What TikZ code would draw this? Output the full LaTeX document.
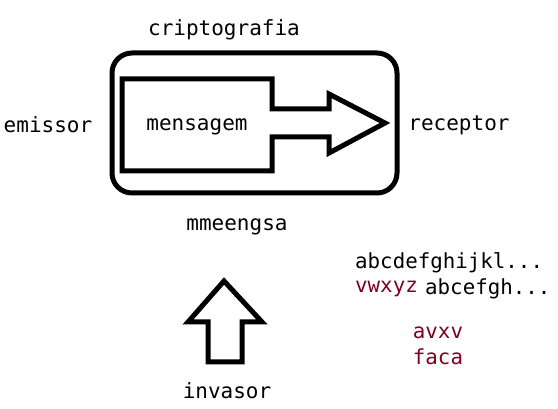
\documentclass[tikz,border=0pt]{standalone}
\usepackage{fontspec}
\setmonofont{DejaVu Sans Mono}
\definecolor{vinho}{RGB}{128,0,32}
\tikzset{
  rotulo/.style={font=\ttfamily\fontsize{21}{24}\selectfont, inner sep=0pt},
  alfabeto/.style={font=\ttfamily\fontsize{20.8}{24}\selectfont, inner sep=0pt},
  contorno/.style={line width=5pt, line join=miter},
}
\begin{document}
\begin{tikzpicture}[x=1pt, y=-1pt]
    \useasboundingbox (0,0) rectangle (558,409);

    % Caixa da criptografia
    \draw[contorno, rounded corners=20pt] (112,53) rectangle (397,193);

    % Seta com a mensagem
    \draw[contorno] (122,79) -- (272,79) -- (272,109) -- (329,109) -- (329,94)
        -- (385,123) -- (329,153) -- (329,137) -- (272,137) -- (272,171)
        -- (122,171) -- cycle;

    % Seta do invasor
    \draw[contorno] (224,281) -- (262,322) -- (242,322) -- (242,362)
        -- (208,362) -- (208,322) -- (188,322) -- cycle;

    % Textos
    \node[rotulo] (cripto) at (224,30) {criptografia};
    \node[rotulo] (emissor) at (48,125) {emissor};
    \node[rotulo] (receptor) at (459,125) {receptor};
    \node[rotulo] (mensagem) at (197,127) {mensagem};
    \node[rotulo] (embaralhada) at (237,227) {mmeengsa};
    \node[rotulo] (invasor) at (227,391) {invasor};

    % Alfabetos deslocados
    \node[alfabeto, anchor=west] (alfa) at (355,263) {abcdefghijkl...};
    \node[alfabeto, anchor=west, text=vinho] (desloc) at (355,289) {vwxyz};
    \node[alfabeto, anchor=west] (resto) at (425,289) {abcefgh...};
    \node[alfabeto, text=vinho] (cifra1) at (438,333) {avxv};
    \node[alfabeto, text=vinho] (cifra2) at (438,357) {faca};
\end{tikzpicture}
\end{document}
